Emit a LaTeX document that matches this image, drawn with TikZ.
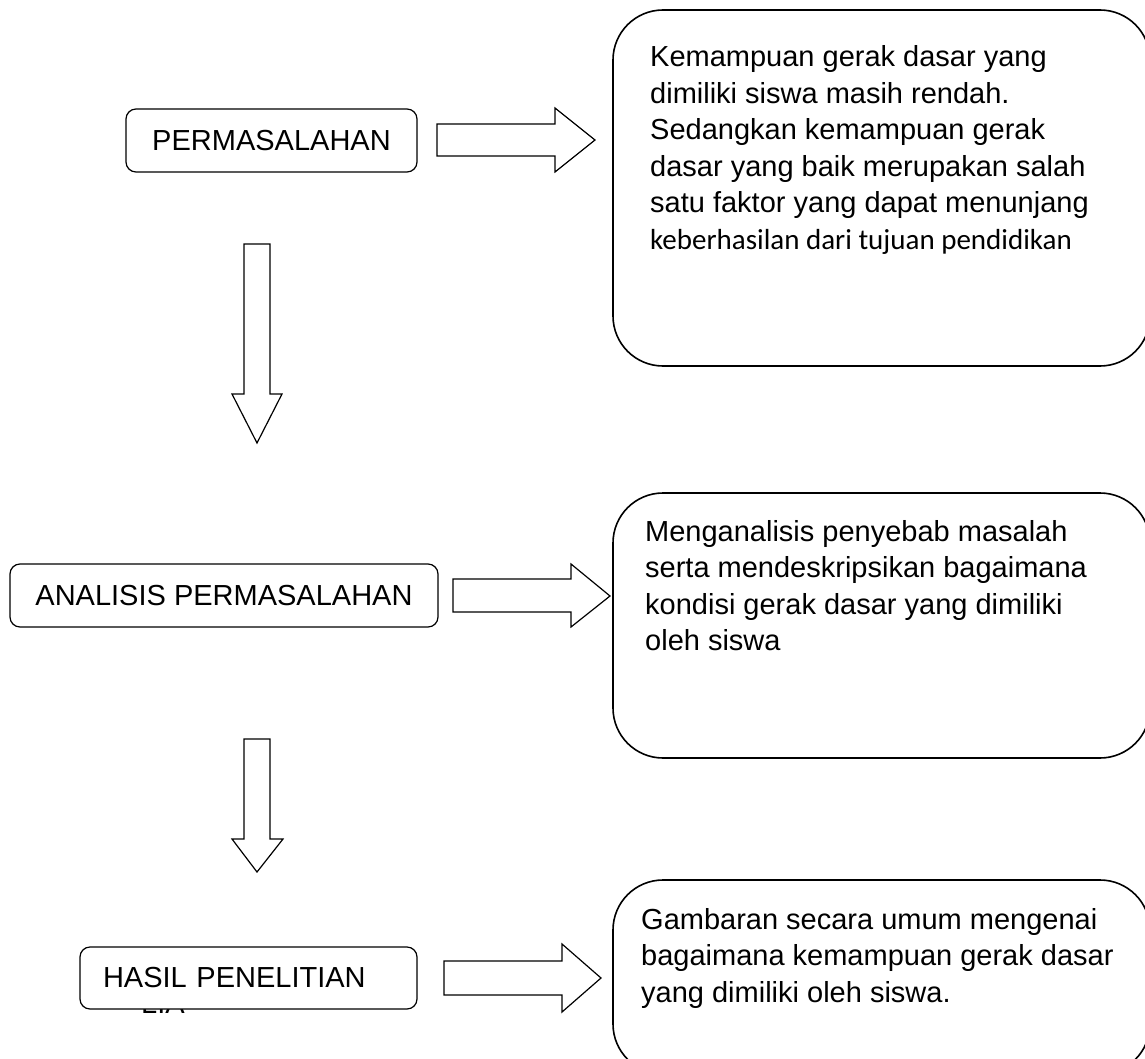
\documentclass[tikz,border=0pt]{standalone}
\usepackage{fontspec}
\setmainfont{Liberation Sans}
\newfontfamily\carlitofont{Carlito}
\begin{document}
\begin{tikzpicture}[x=1pt,y=-1pt,
  smallbox/.style={draw=black,line width=1.2pt,rounded corners=10pt,fill=white,inner sep=0pt,
    font=\fontsize{29pt}{35pt}\selectfont},
  bigbox/.style={draw=black,line width=1.6pt,rounded corners=50pt,fill=white,inner sep=0pt},
  bodytext/.style={anchor=base west,inner sep=0pt,align=left},
  blockarrow/.style={draw=black,line width=1.2pt,fill=white,line join=miter}
]
\useasboundingbox (0,0) rectangle (1145,1059);
\clip (0,0) rectangle (1145,1059);

% ---------- hidden text fragment under the HASIL box ----------
\node[anchor=base west,inner sep=0pt,font=\fontsize{29pt}{35pt}\selectfont] (lia) at (141,1013) {LIA};

% ---------- left boxes ----------
\node[smallbox,minimum width=291pt,minimum height=63pt] (p1) at (271.5,140.5) {PERMASALAHAN};
\node[smallbox,minimum width=428pt,minimum height=63pt] (p2) at (224,595.5) {ANALISIS PERMASALAHAN};
\node[smallbox,minimum height=62pt,text width=291pt,align=left,inner xsep=23pt] (p3) at (248.5,978) {HASIL PENELITIAN};

% ---------- right boxes ----------
\node[bigbox,minimum width=537pt,minimum height=356pt] (b1) at (881.5,188) {};
\node[bigbox,minimum width=537pt,minimum height=265pt] (b2) at (881.5,625.5) {};
\node[bigbox,minimum width=537pt,minimum height=194pt] (b3) at (881.5,977) {};

\node[bodytext] (t1) at (650,67) {\begin{minipage}[t]{490pt}\fontsize{29pt}{36.5pt}\selectfont
Kemampuan gerak dasar yang\\
dimiliki siswa masih rendah.\\
Sedangkan kemampuan gerak\\
dasar yang baik merupakan salah\\
satu faktor yang dapat menunjang\\
{\carlitofont keberhasilan dari tujuan pendidikan}\end{minipage}};

\node[bodytext] (t2) at (645,541) {\begin{minipage}[t]{490pt}\fontsize{29pt}{36.5pt}\selectfont
Menganalisis penyebab masalah\\
serta mendeskripsikan bagaimana\\
kondisi gerak dasar yang dimiliki\\
oleh siswa\end{minipage}};

\node[bodytext] (t3) at (641,929) {\begin{minipage}[t]{490pt}\fontsize{29pt}{36.5pt}\selectfont
Gambaran secara umum mengenai\\
bagaimana kemampuan gerak dasar\\
yang dimiliki oleh siswa.\end{minipage}};

% ---------- block arrows ----------
% right arrows
\draw[blockarrow] (437,124) -- (555,124) -- (555,108) -- (595,140) -- (555,172) -- (555,156) -- (437,156) -- cycle;
\draw[blockarrow] (453,579) -- (571,579) -- (571,564) -- (610,596) -- (571,627) -- (571,612) -- (453,612) -- cycle;
\draw[blockarrow] (444,961) -- (562,961) -- (562,944) -- (601,978) -- (562,1012) -- (562,995) -- (444,995) -- cycle;
% down arrows
\draw[blockarrow] (244,244) -- (244,394) -- (232,394) -- (257,443) -- (282,394) -- (270,394) -- (270,244) -- cycle;
\draw[blockarrow] (244,739) -- (244,839) -- (232,839) -- (257,872) -- (283,839) -- (270,839) -- (270,739) -- cycle;
\end{tikzpicture}
\end{document}
